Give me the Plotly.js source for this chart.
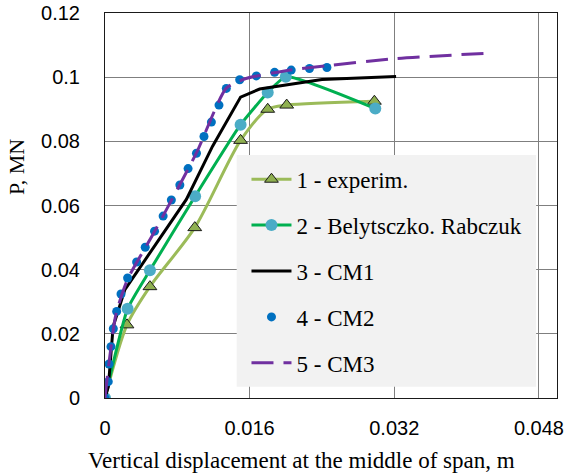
<!DOCTYPE html>
<html>
<head>
<meta charset="utf-8">
<script src="https://cdn.plot.ly/plotly-3.0.1.min.js"></script>
<style>html,body{margin:0;padding:0;background:#fff;}#chart{width:568px;height:473px;}</style>
</head>
<body>
<div id="chart"></div>
<script>
// ---- data ----
const expX = [0, 0.00243, 0.00497, 0.00993, 0.0150, 0.0180, 0.0201, 0.0298];
const expY = [0, 0.0228, 0.0347, 0.0531, 0.0803, 0.0900, 0.0913, 0.0925];

const belX = [0, 0.0025, 0.00497, 0.00997, 0.0150, 0.0180, 0.0200, 0.0299];
const belY = [0, 0.0278, 0.0398, 0.0629, 0.0852, 0.0952, 0.1001, 0.0902];

const cm1X = [0, 0.00037, 0.0009, 0.0022, 0.0090, 0.0119, 0.0150, 0.0171, 0.0240, 0.0322];
const cm1Y = [0, 0.0035, 0.0223, 0.0338, 0.0619, 0.0785, 0.0938, 0.0963, 0.0993, 0.1002];

const cm2X = [0, 0.00036, 0.00044, 0.00066, 0.00092, 0.00129, 0.00177, 0.00250, 0.00350, 0.00445,
              0.00548, 0.00643, 0.00734, 0.00828, 0.00919, 0.01012, 0.01095, 0.01177, 0.01261,
              0.01342, 0.0149, 0.01674, 0.01876, 0.0206, 0.02262, 0.02455];
const cm2Y = [0, 0.0051, 0.0106, 0.0160, 0.0216, 0.0270, 0.0324, 0.0374, 0.0424, 0.0470,
              0.0520, 0.0567, 0.0617, 0.0664, 0.0715, 0.0763, 0.0815, 0.0860, 0.0913,
              0.0965, 0.0992, 0.1004, 0.1015, 0.1022, 0.1027, 0.1030];

const cm3X = [0, 0.0004, 0.0012, 0.0025, 0.0055, 0.0101, 0.0134, 0.0155, 0.0200, 0.0250, 0.0322, 0.0425];
const cm3Y = [0, 0.0100, 0.0260, 0.0370, 0.0520, 0.0763, 0.0965, 0.0995, 0.1020, 0.1037, 0.1058, 0.1075];

const names = ['1 - experim.', '2 - Belytsczko. Rabczuk', '3 - CM1', '4 - CM2', '5 - CM3'];
const xTicks = [0, 0.016, 0.032, 0.048];
const yTicks = [0, 0.02, 0.04, 0.06, 0.08, 0.1, 0.12];

const serif = 'Liberation Serif, Times New Roman, serif';
const sans = 'Liberation Sans, Arial, sans-serif';

const traces = [
  {x: expX, y: expY, name: names[0], legendgroup: 'g1', mode: 'lines+markers',
   line: {color: '#9BBB59', width: 3, shape: 'spline', smoothing: 0.8},
   marker: {symbol: 'triangle-up', size: 12, color: '#8FB050', line: {color: '#1a1a1a', width: 1}}},
  {x: belX, y: belY, name: names[1], legendgroup: 'g2', mode: 'lines+markers',
   line: {color: '#00B050', width: 3, shape: 'spline', smoothing: 0.5},
   marker: {symbol: 'circle', size: 12, color: '#4BACC6'}},
  {x: cm1X, y: cm1Y, name: names[2], legendgroup: 'g3', mode: 'lines',
   line: {color: '#000000', width: 3}},
  {x: cm2X, y: cm2Y, name: names[3], legendgroup: 'g4', mode: 'markers',
   marker: {symbol: 'circle', size: 9, color: '#0070C0'}},
  {x: cm3X, y: cm3Y, name: names[4], legendgroup: 'g5', mode: 'lines',
   line: {color: '#7030A0', width: 3, dash: '22px,10px', shape: 'spline', smoothing: 0.6}}
];

const layout = {
  width: 568, height: 473,
  margin: {l: 105, r: 11, t: 13, b: 75},
  paper_bgcolor: '#ffffff', plot_bgcolor: '#ffffff',
  showlegend: true,
  xaxis: {
    range: [0, 0.05], tickvals: xTicks, ticktext: xTicks.map(String),
    showgrid: true, gridcolor: '#7f7f7f', gridwidth: 1,
    zeroline: false, showline: true, linecolor: '#1a1a1a', linewidth: 1, mirror: true,
    ticks: '', ticklabelstandoff: 12,
    tickfont: {family: sans, size: 20, color: '#000'}
  },
  yaxis: {
    range: [0, 0.12], tickvals: yTicks, ticktext: yTicks.map(String),
    showgrid: true, gridcolor: '#7f7f7f', gridwidth: 1,
    zeroline: false, showline: true, linecolor: '#1a1a1a', linewidth: 1, mirror: true,
    ticks: '', ticklabelstandoff: 20,
    tickfont: {family: sans, size: 20, color: '#000'}
  },
  legend: {
    x: 0.313, y: 0.624, xanchor: 'left', yanchor: 'top',
    bgcolor: 'rgba(0,0,0,0)', borderwidth: 0,
    font: {family: serif, size: 23, color: '#000'},
    tracegroupgap: 13, itemwidth: 40
  },
  shapes: [{
    type: 'rect', xref: 'paper', yref: 'paper', layer: 'above',
    x0: 0.2914, x1: 0.9538, y0: 0.0292, y1: 0.631,
    fillcolor: '#F2F2F2', line: {width: 0}
  }],
  annotations: [
    {text: 'Vertical displacement at the middle of span, m', xref: 'paper', yref: 'paper',
     x: (301 - 105) / 452, y: -(460 - 398) / 385, xanchor: 'center', yanchor: 'middle',
     showarrow: false, font: {family: serif, size: 23, color: '#000'}},
    {text: 'P, MN', xref: 'paper', yref: 'paper', textangle: -90,
     x: (16 - 105) / 452, y: (398 - 167) / 385, xanchor: 'center', yanchor: 'middle',
     showarrow: false, font: {family: serif, size: 22, color: '#000'}}
  ]
};

Plotly.newPlot('chart', traces, layout, {displayModeBar: false, staticPlot: true});
</script>
</body>
</html>
